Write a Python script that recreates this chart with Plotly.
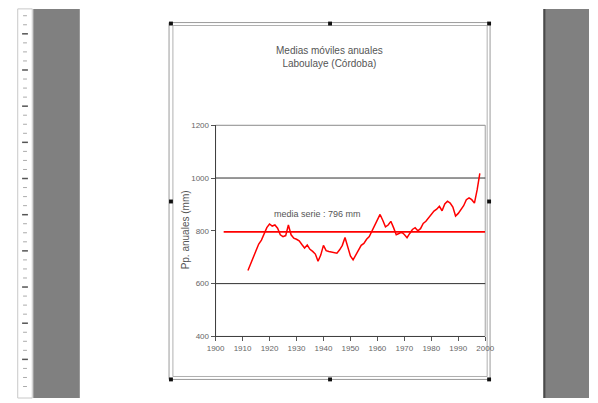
import plotly.graph_objects as go

# Annual precipitation, moving averages, Laboulaye (Córdoba)
years = list(range(1912, 1999))
precip_mm = [
    650, 675, 702, 722, 750, 765, 790, 812, 826, 818,
    822, 810, 785, 778, 782, 822, 785, 772, 768, 762,
    748, 735, 746, 730, 722, 712, 685, 708, 745, 725,
    722, 720, 718, 715, 728, 745, 775, 742, 705, 690,
    708, 730, 745, 752, 768, 778, 800, 818, 838, 862,
    840, 815, 822, 836, 812, 785, 790, 795, 786, 774,
    790, 805, 812, 800, 808, 828, 836, 850, 864, 875,
    882, 893, 876, 902, 912, 905, 890, 856, 866, 880,
    895, 918, 925, 918, 905, 955, 1018,
]
mean_years = [1903, 2000]
mean_value = 796
x_ticks = list(range(1900, 2001, 10))
y_ticks = [400, 600, 800, 1000, 1200]

W, H = 598, 403


def px(x):
    return x / W


def py(y):
    return 1 - y / H


fig = go.Figure()

fig.add_trace(go.Scatter(
    x=mean_years, y=[mean_value] * len(mean_years), mode="lines",
    line=dict(color="#ff0000", width=1.6), hoverinfo="skip", showlegend=False,
))
fig.add_trace(go.Scatter(
    x=years, y=precip_mm, mode="lines",
    line=dict(color="#ff0000", width=1.5), showlegend=False,
))

shapes = []
# page margins of the document view
shapes.append(dict(type="rect", xref="paper", yref="paper", x0=px(25), x1=px(73),
                   y0=0, y1=py(5), fillcolor="#808080", line_width=0, layer="below"))
shapes.append(dict(type="rect", xref="paper", yref="paper", x0=px(551), x1=1,
                   y0=0, y1=py(5), fillcolor="#808080", line_width=0, layer="below"))
shapes.append(dict(type="line", xref="paper", yref="paper", x0=px(552), x1=px(552),
                   y0=0, y1=py(5), line=dict(color="#4a4a4a", width=2)))
# vertical ruler
shapes.append(dict(type="rect", xref="paper", yref="paper", x0=px(9), x1=px(24),
                   y0=0, y1=py(5), fillcolor="#ffffff", line=dict(color="#c8c8c8", width=1)))
for i in range(44):
    yy = 12 + i * 9.25
    if yy > 400:
        break
    major = i % 4 == 2
    w = 3 if major else 2
    shapes.append(dict(type="line", xref="paper", yref="paper",
                       x0=px(16.5 - w), x1=px(16.5 + w), y0=py(yy), y1=py(yy),
                       line=dict(color="#555555" if major else "#aaaaaa", width=1.5 if major else 1)))
# chart frame
shapes.append(dict(type="rect", xref="paper", yref="paper", x0=px(165), x1=px(496),
                   y0=py(384), y1=py(19), line=dict(color="#9a9a9a", width=1), layer="below"))
shapes.append(dict(type="rect", xref="paper", yref="paper", x0=px(169), x1=px(493),
                   y0=py(381), y1=py(22), line=dict(color="#b0b0b0", width=1), layer="below"))
for hx, hy in [(167, 20), (331, 20), (495, 20), (167, 202), (495, 202),
               (167, 384), (331, 384), (495, 384)]:
    shapes.append(dict(type="rect", xref="paper", yref="paper",
                       x0=px(hx - 2), x1=px(hx + 2), y0=py(hy + 2), y1=py(hy - 2),
                       fillcolor="#111111", line_width=0))
# plot-area border
shapes.append(dict(type="rect", xref="x domain", yref="y domain", x0=0, x1=1, y0=0, y1=1,
                   line=dict(color="#a0a0a0", width=1), layer="below"))
# gridlines
for g in [600, 1000]:
    shapes.append(dict(type="line", xref="x domain", yref="y", x0=0, x1=1, y0=g, y1=g,
                       line=dict(color="#303030", width=1), layer="below"))
shapes.append(dict(type="line", xref="x domain", yref="y", x0=0, x1=1, y0=1200, y1=1200,
                   line=dict(color="#909090", width=1), layer="below"))

font_family = "Liberation Sans Narrow, Arial Narrow, sans-serif"
tick_font = dict(family=font_family, size=8, color="#666666")

fig.update_layout(
    width=W, height=H,
    margin=dict(l=0, r=0, t=0, b=0),
    paper_bgcolor="white", plot_bgcolor="white",
    shapes=shapes,
    xaxis=dict(
        domain=[px(213), px(491)], range=[1900, 2000],
        tickvals=x_ticks, ticktext=[str(t) for t in x_ticks],
        ticks="outside", ticklen=4, tickcolor="#555555",
        showline=True, linecolor="#404040", linewidth=1,
        showgrid=False, zeroline=False, tickfont=tick_font,
    ),
    yaxis=dict(
        domain=[py(340), py(124)], range=[400, 1200],
        tickvals=y_ticks, ticktext=[str(t) for t in y_ticks],
        ticks="outside", ticklen=4, tickcolor="#555555",
        showline=True, linecolor="#404040", linewidth=1,
        showgrid=False, zeroline=False, tickfont=tick_font,
    ),
    annotations=[
        dict(text="Medias móviles anuales<br>Laboulaye (Córdoba)", xref="paper", yref="paper",
             x=px(330), y=py(54), xanchor="center", yanchor="middle",
             showarrow=False, align="center",
             font=dict(family=font_family, size=10, color="#555555")),
        dict(text="Pp. anuales (mm)", xref="paper", yref="paper", x=px(182), y=py(231),
             xanchor="center", yanchor="middle", textangle=-90, showarrow=False,
             font=dict(family="Liberation Sans, Arial, sans-serif", size=10, color="#555555")),
        dict(text="media serie : 796 mm", xref="paper", yref="paper", x=px(318), y=py(215),
             xanchor="center", yanchor="middle", showarrow=False,
             font=dict(family=font_family, size=9, color="#555555")),
    ],
)

fig.write_html("out.html")
